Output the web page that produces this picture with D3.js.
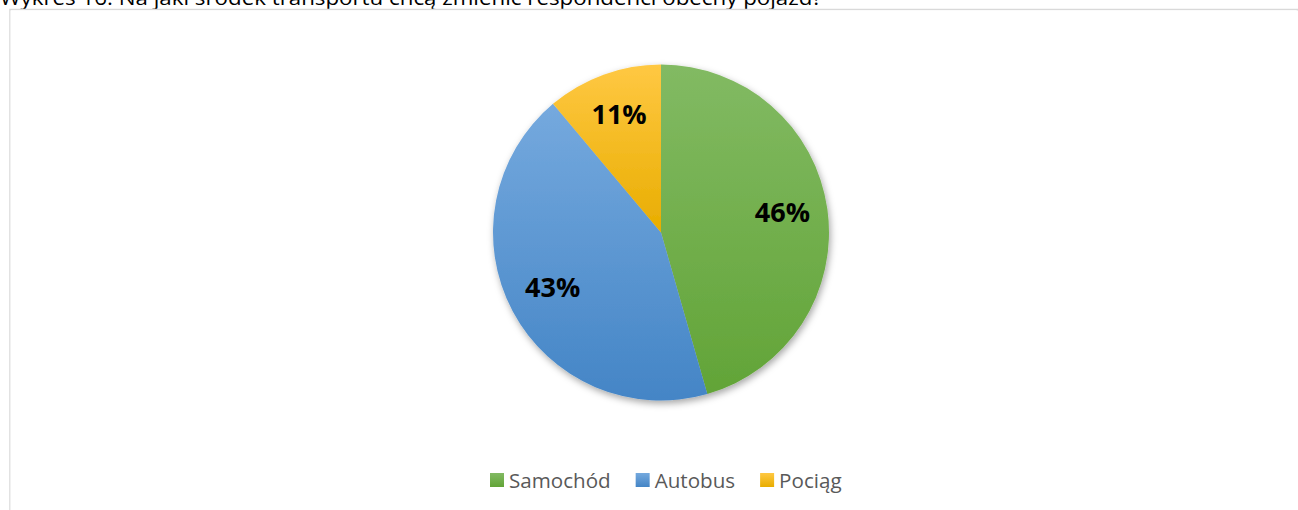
<!DOCTYPE html>
<html>
<head>
<meta charset="utf-8">
<script src="https://cdn.jsdelivr.net/npm/d3@7"></script>
<style>
  html, body { margin: 0; padding: 0; background: #fff; }
  svg { display: block; }
</style>
</head>
<body>
<svg id="chart" width="1298" height="510"></svg>
<script>
const titleText = "Wykres 16. Na jaki środek transportu chcą zmienić respondenci obecny pojazd?";
const categories = ["Samochód", "Autobus", "Pociąg"];
const values = [41, 39, 10];
const labels = ["46%", "43%", "11%"];
const colorsTop = ["#82ba63", "#75a9de", "#ffc843"];
const colorsBottom = ["#62a437", "#4485c6", "#e8ad00"];

const W = 1298, H = 510;
const svg = d3.select("#chart");
const defs = svg.append("defs");

// Gradients
categories.forEach((c, i) => {
  const g = defs.append("linearGradient")
    .attr("id", "grad" + i)
    .attr("x1", 0).attr("y1", 0).attr("x2", 0).attr("y2", 1);
  g.append("stop").attr("offset", "0%").attr("stop-color", colorsTop[i]);
  g.append("stop").attr("offset", "100%").attr("stop-color", colorsBottom[i]);
});

// Shadow filter
const f = defs.append("filter").attr("id", "shadow")
  .attr("x", "-20%").attr("y", "-20%").attr("width", "140%").attr("height", "140%");
f.append("feDropShadow").attr("dx", 1.5).attr("dy", 3).attr("stdDeviation", 3.5)
  .attr("flood-color", "#000").attr("flood-opacity", 0.35);

// Title (cut at top, as in the reference)
svg.append("text")
  .attr("x", 0).attr("y", 5)
  .attr("font-family", "'Open Sans', sans-serif")
  .attr("font-size", 20)
  .attr("fill", "#000")
  .attr("textLength", 822)
  .attr("lengthAdjust", "spacingAndGlyphs")
  .text(titleText);

// Chart area border (top and left visible)
svg.append("rect")
  .attr("x", 10).attr("y", 9.5)
  .attr("width", 1287.5).attr("height", 600)
  .attr("fill", "none")
  .attr("stroke", "#d9d9d9")
  .attr("stroke-width", 1.5);
svg.append("rect")
  .attr("x", 10.5).attr("y", 10.5)
  .attr("width", 1290).attr("height", 600)
  .attr("fill", "#fff");

// Pie
const cx = 661, cy = 232.5, R = 168;
const pie = d3.pie().sort(null).value(d => d)(values);
const arc = d3.arc().innerRadius(0).outerRadius(R);
const labelArc = d3.arc().innerRadius(R * 0.73).outerRadius(R * 0.73);

const gPie = svg.append("g").attr("transform", `translate(${cx},${cy})`);
const gSlices = gPie.append("g").attr("filter", "url(#shadow)");
gSlices.selectAll("path")
  .data(pie)
  .join("path")
  .attr("d", arc)
  .attr("fill", (d, i) => `url(#grad${i})`);

gPie.selectAll("text.lbl")
  .data(pie)
  .join("text")
  .attr("class", "lbl")
  .attr("transform", d => { const [x, y] = labelArc.centroid(d); return `translate(${x},${y - 4})`; })
  .attr("text-anchor", "middle")
  .attr("dominant-baseline", "central")
  .attr("font-family", "'Open Sans', sans-serif")
  .attr("font-weight", "bold")
  .attr("font-size", 27)
  .attr("fill", "#000")
  .text((d, i) => labels[i]);

// Legend
const legend = svg.append("g");
const fontSize = 20.6;
let x = 490;
const ly = 480;
categories.forEach((c, i) => {
  legend.append("rect")
    .attr("x", x).attr("y", ly - 7)
    .attr("width", 14).attr("height", 14)
    .attr("fill", `url(#grad${i})`);
  const t = legend.append("text")
    .attr("x", x + 19).attr("y", ly)
    .attr("dominant-baseline", "central")
    .attr("font-family", "'Open Sans', sans-serif")
    .attr("font-size", fontSize)
    .attr("fill", "#595959")
    .text(c);
  const w = t.node().getComputedTextLength();
  x = x + 19 + w + 25;
});
</script>
</body>
</html>
